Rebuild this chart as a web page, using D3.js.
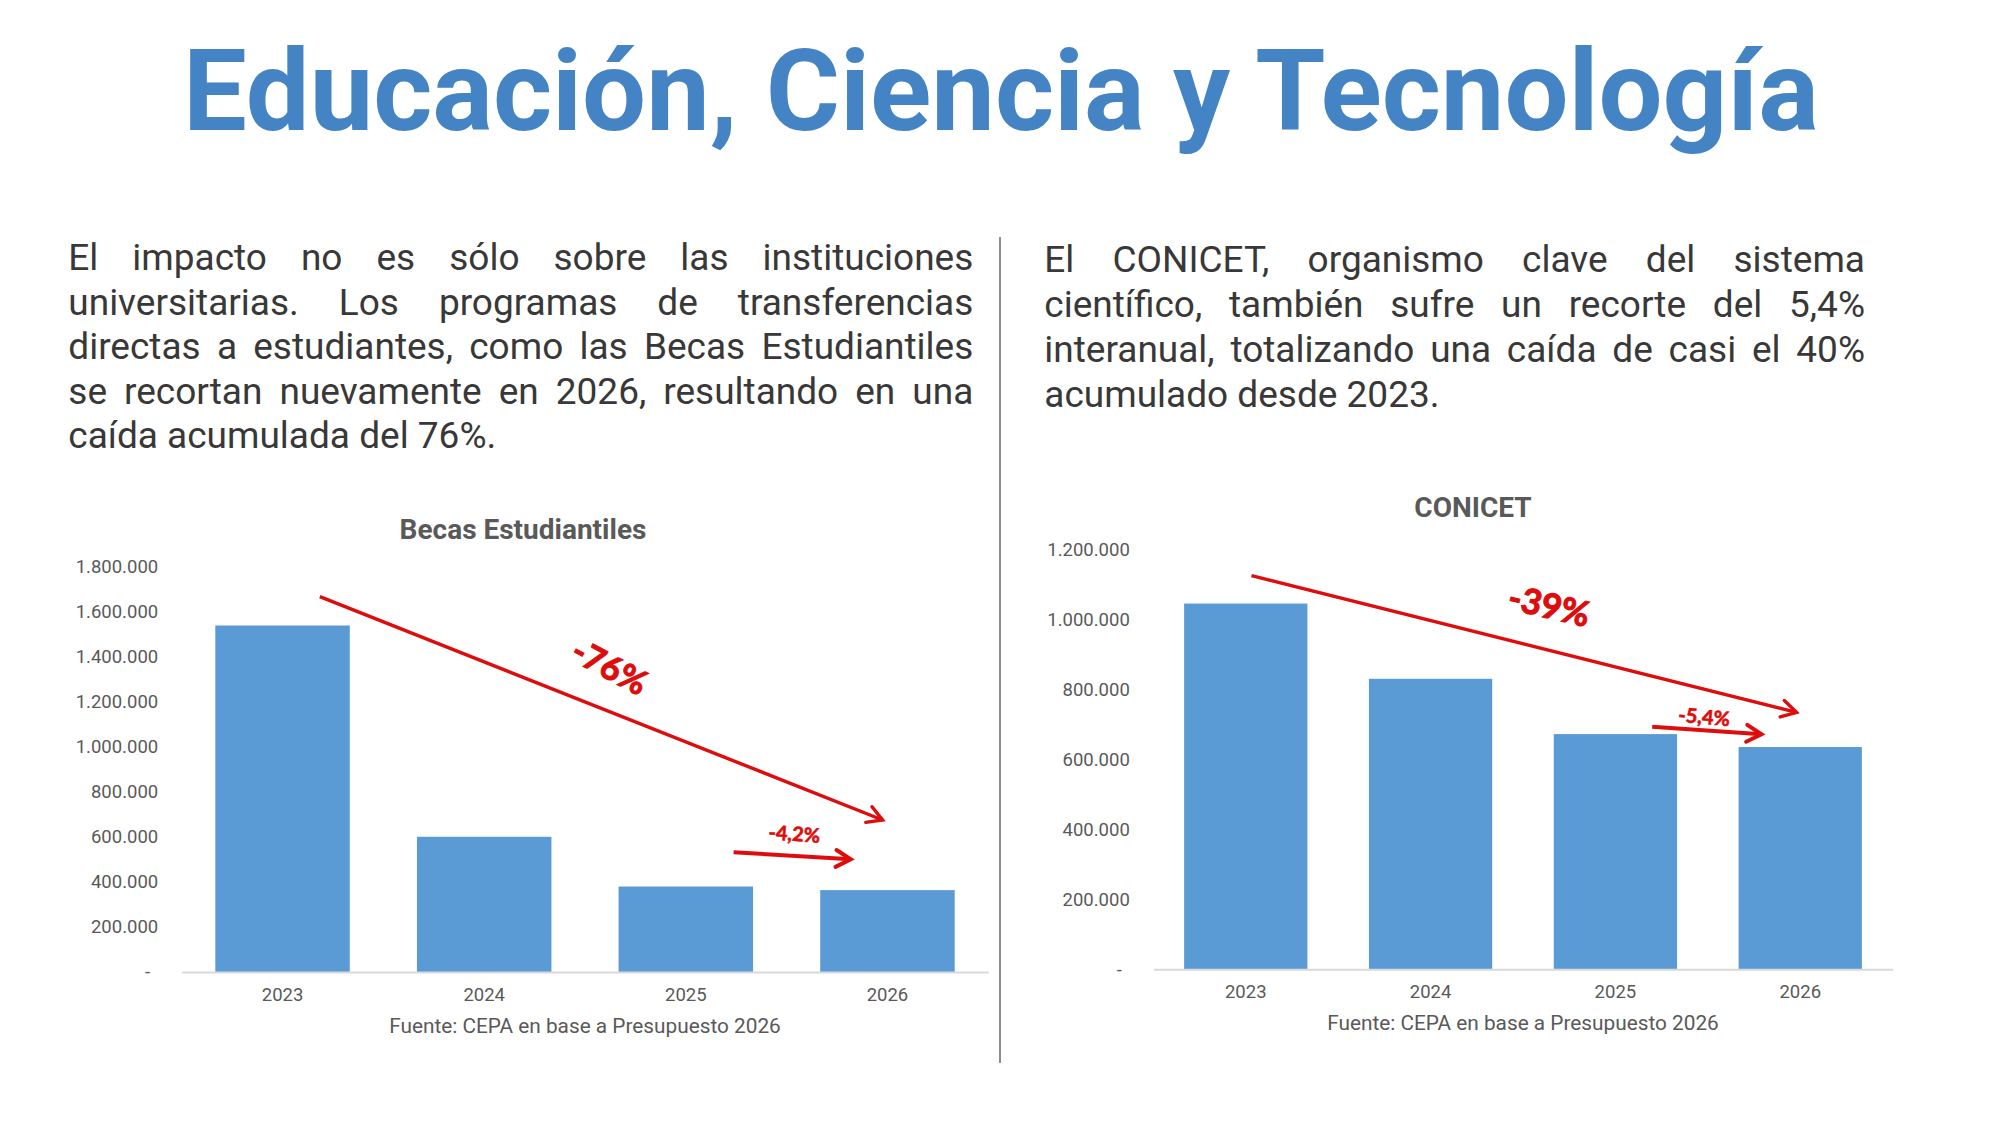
<!DOCTYPE html>
<html>
<head>
<meta charset="utf-8">
<script src="https://cdn.jsdelivr.net/npm/d3@7"></script>
<style>
  html, body { margin: 0; padding: 0; background: #fff; }
  svg { display: block; }
</style>
</head>
<body>
<svg id="chart" width="2000" height="1125"></svg>
<script>
// data
const categories = ['2023', '2024', '2025', '2026'];
const becasValues = [1540000, 601000, 380000, 364000];
const conicetValues = [1045000, 830000, 672000, 635000];
const becasTicks = [0, 200000, 400000, 600000, 800000, 1000000, 1200000, 1400000, 1600000, 1800000];
const conicetTicks = [0, 200000, 400000, 600000, 800000, 1000000, 1200000];

// arrows and notes, in data space: [category index, value]
const becasArrows = [
  { from: [0.185, 1668000], to: [2.976, 675600] },
  { from: [2.237, 532000], to: [2.818, 500900] },
];
const becasNotes = [
  { text: '-76%', at: [1.622, 1355600] },
  { text: '-4,2%', at: [2.538, 613300] },
];
const conicetArrows = [
  { from: [0.031, 1124600], to: [2.980, 734300] },
  { from: [2.199, 693100], to: [2.790, 671400] },
];
const conicetNotes = [
  { text: '-39%', at: [1.641, 1038000] },
  { text: '-5,4%', at: [2.48, 720900] },
];

const heading = 'Educación, Ciencia y Tecnología';
const leftLines = [
  'El impacto no es sólo sobre las instituciones',
  'universitarias. Los programas de transferencias',
  'directas a estudiantes, como las Becas Estudiantiles',
  'se recortan nuevamente en 2026, resultando en una',
  'caída acumulada del 76%.',
];
const rightLines = [
  'El CONICET, organismo clave del sistema',
  'científico, también sufre un recorte del 5,4%',
  'interanual, totalizando una caída de casi el 40%',
  'acumulado desde 2023.',
];
const source = 'Fuente: CEPA en base a Presupuesto 2026';

const svg = d3.select('#chart');
const es = d3.formatLocale({ decimal: ',', thousands: '.', grouping: [3], currency: ['$', ''] });
const fmt = es.format(',d');
const RED = '#de0c0c';

// big title, fitted to its width on the slide
const head = svg.append('text')
  .attr('x', 1001).attr('y', 130)
  .attr('text-anchor', 'middle')
  .style('font-family', 'Roboto').style('font-weight', 700)
  .style('font-size', '100px').attr('fill', '#4584c4')
  .text(heading);
const hw = head.node().getComputedTextLength();
head.style('font-size', (100 * 1636 / hw) + 'px');

// justified paragraphs
function paragraph(lines, x0, x1, y0, step) {
  const g = svg.append('g')
    .style('font-family', 'Roboto').style('font-size', '37px')
    .attr('fill', '#383838');
  lines.forEach((line, i) => {
    const y = y0 + i * step;
    const t = g.append('text').attr('y', y);
    if (i === lines.length - 1) {
      t.attr('x', x0).text(line);
      return;
    }
    const words = line.split(' ');
    const spans = words.map((w) => t.append('tspan').text(w));
    const widths = spans.map((s) => s.node().getComputedTextLength());
    const gap = (x1 - x0 - d3.sum(widths)) / (words.length - 1);
    let x = x0;
    spans.forEach((s, k) => {
      s.attr('x', x);
      x += widths[k] + gap;
    });
  });
}
paragraph(leftLines, 68.3, 973.3, 270, 44.6);
paragraph(rightLines, 1044.3, 1865, 271.7, 45);

// divider
svg.append('line')
  .attr('x1', 1000).attr('x2', 1000)
  .attr('y1', 237).attr('y2', 1063)
  .attr('stroke', '#8c8c8c').attr('stroke-width', 2);

function drawArrow(g, p0, p1, w) {
  const ang = Math.atan2(p1[1] - p0[1], p1[0] - p0[0]);
  const L = 17, a = 0.52;
  const l = [p1[0] - L * Math.cos(ang - a), p1[1] - L * Math.sin(ang - a)];
  const r = [p1[0] - L * Math.cos(ang + a), p1[1] - L * Math.sin(ang + a)];
  const line = d3.line();
  g.append('path').attr('d', line([p0, p1]))
    .attr('stroke', RED).attr('stroke-width', w).attr('fill', 'none');
  g.append('path').attr('d', line([l, p1, r]))
    .attr('stroke', RED).attr('stroke-width', w).attr('fill', 'none')
    .attr('stroke-linejoin', 'miter').attr('stroke-linecap', 'round');
}

function panel(cfg) {
  const g = svg.append('g');
  const x = d3.scaleBand().domain(categories)
    .range([cfg.x0, cfg.x1]).paddingInner(0.333).paddingOuter(0.1667);
  const y = d3.scaleLinear().domain([0, d3.max(cfg.ticks)]).range([cfg.yBase, cfg.yTop]);
  const pos = d3.scaleLinear().domain([0, categories.length - 1])
    .range([x(categories[0]) + x.bandwidth() / 2, x(categories[categories.length - 1]) + x.bandwidth() / 2]);

  g.append('text')
    .attr('x', cfg.titleX).attr('y', cfg.titleY)
    .attr('text-anchor', 'middle')
    .style('font-family', 'Roboto').style('font-weight', 700).style('font-size', '28px')
    .attr('fill', '#595959')
    .text(cfg.title);

  g.selectAll('rect.bar').data(cfg.values).join('rect')
    .attr('class', 'bar')
    .attr('x', (d, i) => x(categories[i]))
    .attr('width', x.bandwidth())
    .attr('y', (d) => y(d))
    .attr('height', (d) => y(0) - y(d))
    .attr('fill', '#5b9bd5');

  const ya = g.append('g')
    .attr('transform', `translate(${cfg.x0},0)`)
    .call(d3.axisLeft(y).tickValues(cfg.ticks).tickSize(0).tickPadding(23.5)
      .tickFormat((d) => (d === 0 ? '-' : fmt(d))));
  ya.select('.domain').remove();
  ya.selectAll('text')
    .style('font-family', 'Roboto').style('font-size', '18.5px').attr('fill', '#595959')
    .attr('dx', (d) => (d === 0 ? -8 : 0));

  const xa = g.append('g')
    .attr('transform', `translate(0,${cfg.yBase})`)
    .call(d3.axisBottom(x).tickSize(0).tickSizeOuter(0).tickPadding(16));
  xa.select('.domain').attr('stroke', '#d9d9d9').attr('stroke-width', 2);
  xa.selectAll('text')
    .style('font-family', 'Roboto').style('font-size', '18.5px').attr('fill', '#595959');

  g.append('text')
    .attr('x', (cfg.x0 + cfg.x1) / 2).attr('y', cfg.yBase + 61)
    .attr('text-anchor', 'middle')
    .style('font-family', 'Roboto').style('font-size', '20.8px')
    .attr('fill', '#595959')
    .text(source);

  const pt = (p) => [pos(p[0]), y(p[1])];
  cfg.arrows.forEach((a, i) => drawArrow(g, pt(a.from), pt(a.to), i === 0 ? 3.4 : 4));
  cfg.notes.forEach((n, i) => {
    const p = pt(n.at);
    const st = cfg.noteStyle[i];
    g.append('text')
      .attr('transform', `translate(${p[0]},${p[1]}) rotate(${st.angle})`)
      .attr('text-anchor', 'middle').attr('dy', '0.35em')
      .style('font-family', 'Lato').style('font-weight', 700)
      .style('font-size', st.size + 'px')
      .attr('fill', RED)
      .attr('stroke', RED).attr('stroke-width', st.size > 30 ? 1.1 : 0.6)
      .text(n.text);
  });
}

panel({
  title: 'Becas Estudiantiles', titleX: 523, titleY: 538.6,
  values: becasValues, ticks: becasTicks,
  x0: 181.7, x1: 988.3, yBase: 972, yTop: 567,
  arrows: becasArrows, notes: becasNotes,
  noteStyle: [{ size: 34, angle: 28 }, { size: 20, angle: 4 }],
});
panel({
  title: 'CONICET', titleX: 1473, titleY: 517,
  values: conicetValues, ticks: conicetTicks,
  x0: 1153.3, x1: 1892.7, yBase: 969.3, yTop: 549.3,
  arrows: conicetArrows, notes: conicetNotes,
  noteStyle: [{ size: 35, angle: 13 }, { size: 20, angle: 5 }],
});
</script>
</body>
</html>
